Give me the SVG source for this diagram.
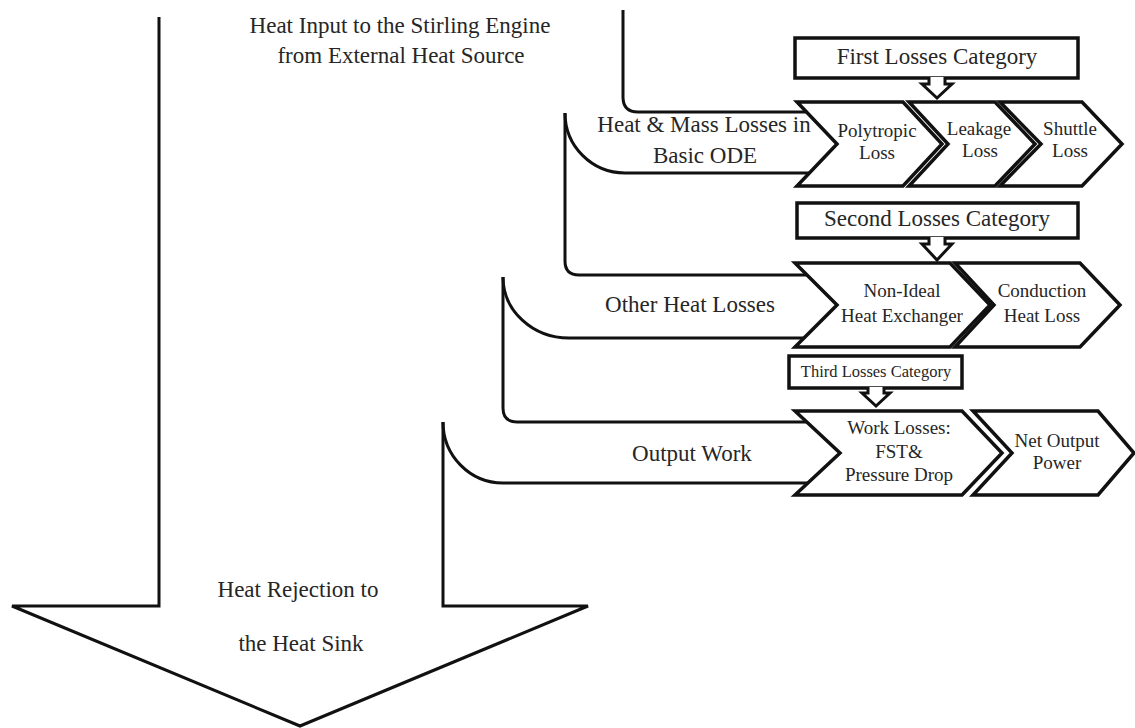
<svg xmlns="http://www.w3.org/2000/svg" width="1135" height="728" viewBox="0 0 1135 728">
<style>
.ln{fill:none;stroke:#111;stroke-width:3;stroke-linejoin:miter;stroke-linecap:butt}
.ch{fill:#fff;stroke:#111;stroke-width:3.5;stroke-linejoin:miter}
.bx{fill:#fff;stroke:#111;stroke-width:3.5}
.ar{fill:#fff;stroke:#111;stroke-width:3;stroke-linejoin:miter}
.t{font-family:'Liberation Serif','DejaVu Serif',serif;fill:#262626;text-anchor:middle}
.big{font-size:23px}
.mid{font-size:19px}
.sm{font-size:16.5px}
</style>
<rect width="1135" height="728" fill="#fff"/>
<g id="connectors">
  <path class="ln" d="M159,17 V606 H12 L300,726 L588,606 H443 V422"/>
  <path class="ln" d="M623,10 V97 Q623,112 638,112 H806"/>
  <path class="ln" d="M565,113 A60,60 0 0 0 625,173 H809"/>
  <path class="ln" d="M565,113 V261 Q565,275 579,275 H807"/>
  <path class="ln" d="M503,277 A66,61 0 0 0 569,338 H804"/>
  <path class="ln" d="M503,277 V408 Q503,422 517,422 H807"/>
  <path class="ln" d="M443,422 A60,61 0 0 0 503,483 H808"/>
</g>
<g id="heat-input">
  <text class="t big" x="400" y="33">Heat Input to the Stirling Engine</text>
  <text class="t big" x="401" y="63">from External Heat Source</text>
</g>
<g id="heat-rejection">
  <text class="t big" x="298" y="597">Heat Rejection to</text>
  <text class="t big" x="301" y="651">the Heat Sink</text>
</g>
<g id="band-heat-mass">
  <text class="t big" x="704" y="132">Heat &amp; Mass Losses in</text>
  <text class="t big" x="705" y="163">Basic ODE</text>
</g>
<g id="band-other-heat">
  <text class="t big" x="690" y="312">Other Heat Losses</text>
</g>
<g id="band-output-work">
  <text class="t big" x="692" y="461">Output Work</text>
</g>
<g id="first-category">
  <rect class="bx" x="795" y="38" width="283" height="40"/>
  <path class="ar" d="M929,77 V84 H922 L937,98 L952,84 H945 V77"/>
  <text class="t big" x="937" y="64">First Losses Category</text>
</g>
<g id="polytropic-loss">
  <polygon class="ch" points="797,102 903,102 942,144 903,186 797,186 837,144"/>
  <text class="t mid" x="877" y="137">Polytropic</text>
  <text class="t mid" x="877" y="159">Loss</text>
</g>
<g id="leakage-loss">
  <polygon class="ch" points="909,102 995,102 1035,144 995,186 909,186 948,144"/>
  <text class="t mid" x="979" y="135">Leakage</text>
  <text class="t mid" x="980" y="157">Loss</text>
</g>
<g id="shuttle-loss">
  <polygon class="ch" points="1000,102 1082,102 1122,144 1082,186 1000,186 1041,144"/>
  <text class="t mid" x="1070" y="135">Shuttle</text>
  <text class="t mid" x="1070" y="157">Loss</text>
</g>
<g id="second-category">
  <rect class="bx" x="797" y="203" width="281" height="35"/>
  <path class="ar" d="M929,237 V244 H922 L937,260 L952,244 H945 V237"/>
  <text class="t big" x="937" y="226">Second Losses Category</text>
</g>
<g id="non-ideal-heat-exchanger">
  <polygon class="ch" points="795,263 950,263 990,305 950,347 795,347 837,305"/>
  <text class="t mid" x="902" y="297">Non-Ideal</text>
  <text class="t mid" x="902" y="322">Heat Exchanger</text>
</g>
<g id="conduction-heat-loss">
  <polygon class="ch" points="955,263 1080,263 1120,305 1080,347 955,347 994,305"/>
  <text class="t mid" x="1042" y="297">Conduction</text>
  <text class="t mid" x="1042" y="322">Heat Loss</text>
</g>
<g id="third-category">
  <rect class="bx" x="789" y="356" width="173" height="32"/>
  <path class="ar" d="M868,387 V393 H862 L876,406 L890,393 H884 V387"/>
  <text class="t sm" x="876" y="377">Third Losses Category</text>
</g>
<g id="work-losses">
  <polygon class="ch" points="795,411 962,411 1002,453 962,495 795,495 840,453"/>
  <text class="t mid" x="899" y="434">Work Losses:</text>
  <text class="t mid" x="899" y="458">FST&amp;</text>
  <text class="t mid" x="899" y="481">Pressure Drop</text>
</g>
<g id="net-output-power">
  <polygon class="ch" points="973,411 1098,411 1134,453 1098,495 973,495 1012,453"/>
  <text class="t mid" x="1057" y="447">Net Output</text>
  <text class="t mid" x="1057" y="469">Power</text>
</g>
</svg>
